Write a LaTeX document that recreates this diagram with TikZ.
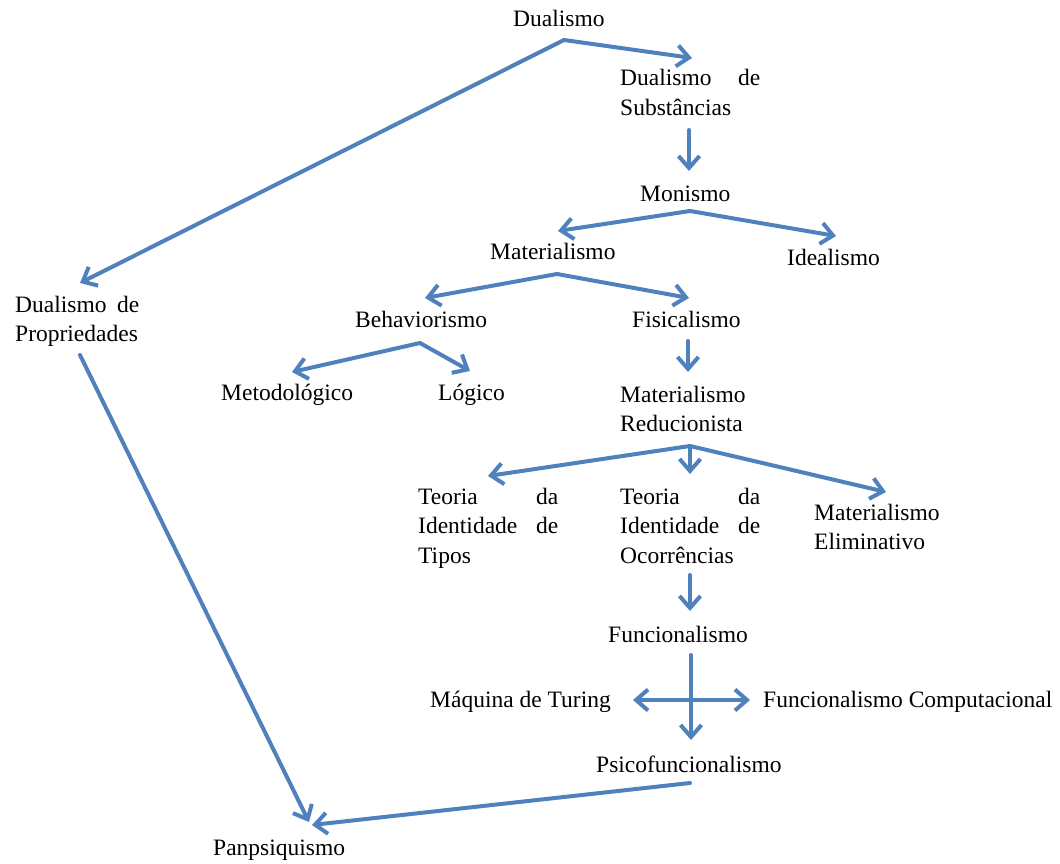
\documentclass[tikz,border=0pt]{standalone}
\usepackage{fontspec}
\setmainfont{Liberation Serif}
\usetikzlibrary{arrows.meta}
\definecolor{linkblue}{HTML}{4F81BD}
\tikzset{
  >={Straight Barb[length=12pt,width=21pt]},
  term/.style={inner sep=0pt,anchor=base west,font=\fontsize{23.5}{29.5}\selectfont},
  block/.style={term,align=left,text width=#1}
}
\begin{document}
\begin{tikzpicture}[x=1pt,y=1pt]
      \useasboundingbox (0,0) rectangle (1060,-864);
      \begin{scope}[every node/.style={term}]
        \node (dual) at (513,-27) {Dualismo};
        \node[block=140pt] (dds) at (620,-86) {Dualismo\hfill de\\Substâncias};
        \node (mon) at (640,-201) {Monismo};
        \node (mat) at (490,-259) {Materialismo};
        \node (ideal) at (787,-265) {Idealismo};
        \node[block=124pt] (ddp) at (15,-312) {Dualismo\hfill de\\Propriedades};
        \node (beh) at (355,-327) {Behaviorismo};
        \node (fis) at (632,-327) {Fisicalismo};
        \node (metod) at (221,-400) {Metodológico};
        \node (logic) at (438,-400) {Lógico};
        \node[block=130pt] (matred) at (620,-402) {Materialismo\\Reducionista};
        \node[block=140pt] (tipos) at (418,-504) {Teoria\hfill da\\Identidade\hfill de\\Tipos};
        \node[block=140pt] (ocorr) at (620,-504) {Teoria\hfill da\\Identidade\hfill de\\Ocorrências};
        \node[block=130pt] (elim) at (814,-520) {Materialismo\\Eliminativo};
        \node (func) at (608,-642) {Funcionalismo};
        \node (turing) at (430,-707) {Máquina de Turing};
        \node (comp) at (763,-707) {Funcionalismo Computacional};
        \node (psico) at (596,-772) {Psicofuncionalismo};
        \node (pan) at (213,-855) {Panpsiquismo};
      \end{scope}
      % branch points
      \coordinate (dual-split) at (564,-40);
      \coordinate (mon-split) at (690,-211);
      \coordinate (mat-split) at (557,-274);
      \coordinate (beh-split) at (420,-343);
      \coordinate (matred-split) at (690,-446);
      \begin{scope}[every edge/.style={draw=linkblue,line width=4pt,line cap=round,line join=round,->}]
          \path (dual-split) edge ([shift={(72,28)}]dds.base west);
          \path (dual-split) edge ([shift={(65,29)}]ddp.base west);
          \path ([shift={(69,-44)}]dds.base west) edge ([shift={(49,30)}]mon.base west);
          \path (mon-split) edge ([shift={(68,28)}]mat.base west);
          \path (mon-split) edge ([shift={(49,29)}]ideal.base west);
          \path (mat-split) edge ([shift={(70,29)}]beh.base west);
          \path (mat-split) edge ([shift={(57,29)}]fis.base west);
          \path (beh-split) edge ([shift={(71,28)}]metod.base west);
          \path (beh-split) edge ([shift={(32,29)}]logic.base west);
          \path ([shift={(56,-14)}]fis.base west) edge ([shift={(68,30)}]matred.base west);
          \path (matred-split) edge ([shift={(70,28)}]tipos.base west);
          \path (matred-split) edge ([shift={(70,30)}]ocorr.base west);
          \path (matred-split) edge ([shift={(72,28)}]elim.base west);
          \path ([shift={(70,-71)}]ocorr.base west) edge ([shift={(82,31)}]func.base west);
          \path ([shift={(83,-13)}]func.base west) edge ([shift={(95,32)}]psico.base west);
          \path ([shift={(203,7)}]turing.base west) edge[<->] ([shift={(-13,7)}]comp.base west);
          \path ([shift={(94,-11)}]psico.base west) edge ([shift={(99,30)}]pan.base west);
          \path ([shift={(65,-43)}]ddp.base west) edge ([shift={(96,33)}]pan.base west);
      \end{scope}
    \end{tikzpicture}
\end{document}
